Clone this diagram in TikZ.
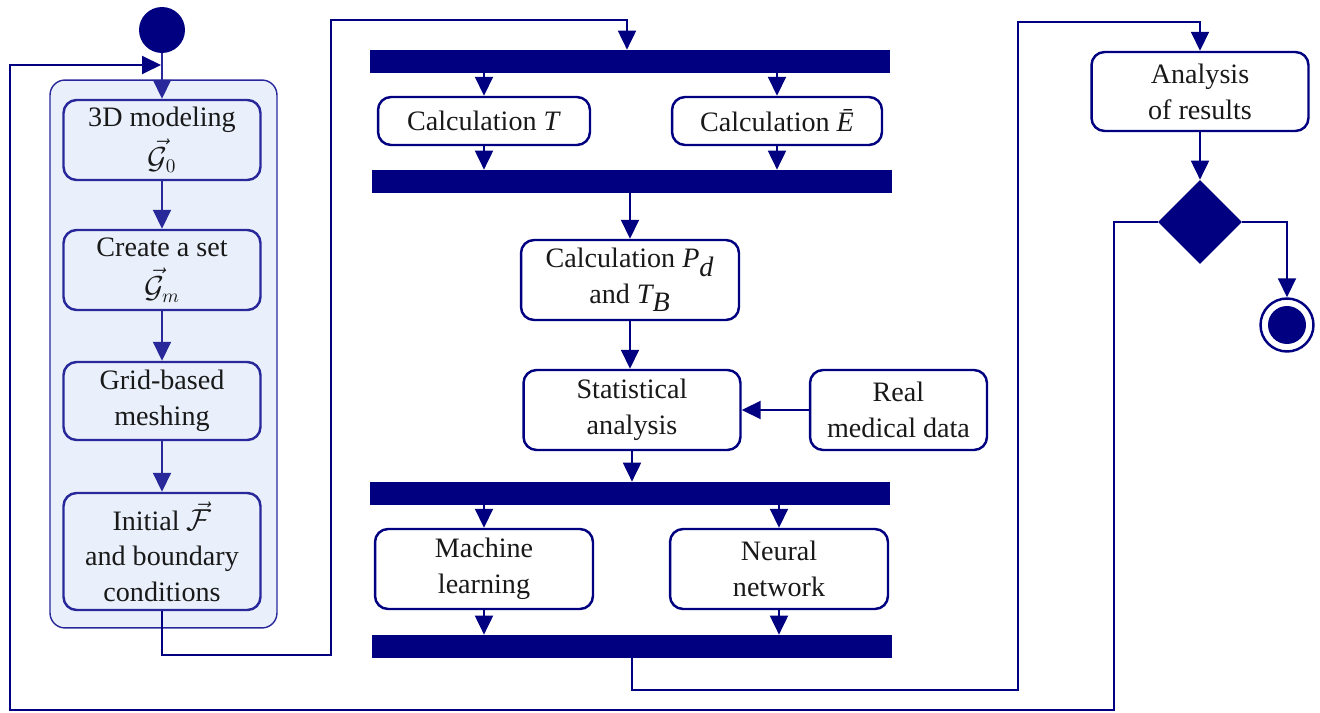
\documentclass[tikz,border=0pt]{standalone}
\usepackage{fontspec}
\setmainfont{Liberation Serif}
\usetikzlibrary{arrows.meta,shapes.geometric}
\definecolor{navy}{RGB}{0,0,128}
\definecolor{gline}{RGB}{40,40,155}
\definecolor{gfill}{RGB}{233,240,251}
\definecolor{txt}{RGB}{25,25,25}
\begin{document}
\begin{tikzpicture}[x=0.02cm,y=-0.02cm,
  font=\fontsize{16}{20.5}\selectfont,
  box/.style={draw=navy, line width=1.4pt, rounded corners=0.26cm, fill=white, align=center, inner sep=0pt, text=txt},
  gbox/.style={box, draw=gline, fill=gfill},
  bar/.style={fill=navy, inner sep=0pt, minimum width=10.4cm, minimum height=0.46cm},
  conn/.style={draw=navy, line width=1.1pt},
  arr/.style={conn, -{Triangle[length=0.38cm,width=0.36cm]}},
  garr/.style={arr, draw=gline, fill=gline},
]
\useasboundingbox (0,0) rectangle (1320,713);

% group
\node[draw=gline, line width=0.8pt, fill=gfill, rounded corners=0.3cm, minimum width=4.54cm, minimum height=10.96cm, inner sep=0pt] (grp) at (163.5,354) {};

\node[circle, fill=navy, minimum size=0.92cm, inner sep=0pt] (start) at (162,30) {};
\node[gbox, minimum width=3.94cm, minimum height=1.6cm] (b1) at (162,140) {3D modeling\\[3pt]$\vec{\mathcal{G}}_0$};
\node[gbox, minimum width=3.94cm, minimum height=1.6cm] (b2) at (162,270) {Create a set\\[3pt]$\vec{\mathcal{G}}_m$};
\node[gbox, minimum width=3.94cm, minimum height=1.56cm] (b3) at (162,401) {Grid-based\\meshing};
\node[gbox, minimum width=3.94cm, minimum height=2.34cm] (b4) at (162,551.5) {Initial~$\vec{\mathcal{F}}$\\[-1pt]and boundary\\conditions};

% middle
\node[bar] (bar1) at (630,61.5) {};
\node[box, minimum width=4.24cm, minimum height=0.96cm] (cT) at (484,121) {Calculation \textit{T}};
\node[box, minimum width=4.2cm, minimum height=0.96cm] (cE) at (777,121) {Calculation \textit{Ē}};
\node[bar] (bar2) at (632,181.5) {};
\node[box, minimum width=4.36cm, minimum height=1.6cm] (pd) at (630,280) {Calculation $\textit{P}_{\textit{d}}$\\and $\textit{T}_{\textit{B}}$};
\node[box, minimum width=4.34cm, minimum height=1.6cm] (stat) at (632,410) {Statistical\\analysis};
\node[box, minimum width=3.54cm, minimum height=1.6cm] (real) at (898.5,410) {Real\\medical data};
\node[bar] (bar3) at (630,493.5) {};
\node[box, minimum width=4.36cm, minimum height=1.6cm] (ml) at (484,569) {Machine\\learning};
\node[box, minimum width=4.36cm, minimum height=1.6cm] (nn) at (779,569) {Neural\\network};
\node[bar] (bar4) at (632,646.5) {};

% right
\node[box, minimum width=4.34cm, minimum height=1.58cm] (ana) at (1200,91.5) {Analysis\\of results};
\node[diamond, aspect=1, fill=navy, minimum width=1.68cm, minimum height=1.68cm, inner sep=0pt] (dia) at (1200,222) {};
\node[circle, draw=navy, line width=1.4pt, fill=white, minimum size=1.06cm, inner sep=0pt] (fin) at (1287,325) {};
\node[circle, fill=navy, minimum size=0.76cm, inner sep=0pt] (fini) at (fin.center) {};

% connectors in group
\draw[garr] (start) -- (b1);
\draw[garr] (b1) -- (b2);
\draw[garr] (b2) -- (b3);
\draw[garr] (b3) -- (b4);

% b4 -> bar1
\coordinate (k1) at (331,655);
\coordinate (k2) at (627,20);
\draw[arr] (b4.south) |- (k1) |- (k2) -- (k2 |- bar1.north);

\draw[arr] (cT.north |- bar1.south) -- (cT.north);
\draw[arr] (cE.north |- bar1.south) -- (cE.north);
\draw[arr] (cT.south) -- (cT.south |- bar2.north);
\draw[arr] (cE.south) -- (cE.south |- bar2.north);
\draw[arr] (pd.north |- bar2.south) -- (pd.north);
\draw[arr] (pd.south) -- (pd.south |- stat.north);
\draw[arr] (real.west) -- (stat.east);
\draw[arr] (stat.south) -- (stat.south |- bar3.north);
\draw[arr] (ml.north |- bar3.south) -- (ml.north);
\draw[arr] (nn.north |- bar3.south) -- (nn.north);
\draw[arr] (ml.south) -- (ml.south |- bar4.north);
\draw[arr] (nn.south) -- (nn.south |- bar4.north);

% bar4 -> analysis
\coordinate (m1) at (1018,690);
\coordinate (m2) at (1200,22);
\draw[arr] (bar4.south) |- (m1) |- (m2) -- (m2 |- ana.north);

\draw[arr] (ana.south) -- (dia.north);
\draw[arr] (dia.east) -| (fin.north);

% loop back
\coordinate (r1) at (1114,710);
\coordinate (r2) at (10,65);
\coordinate (r3) at (161,65);
\draw[arr] (dia.west) -| (r1) -| (r2) -- (r3);
\end{tikzpicture}
\end{document}
